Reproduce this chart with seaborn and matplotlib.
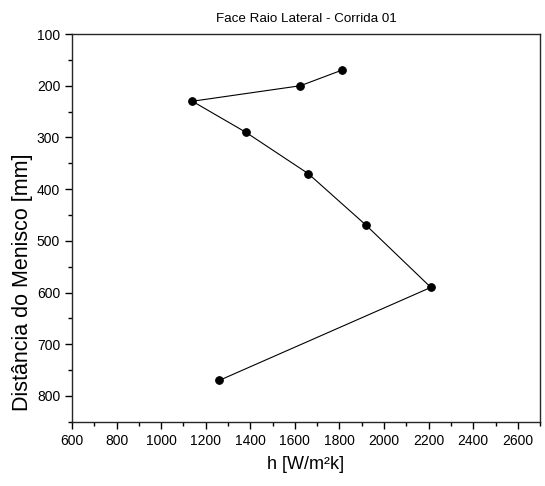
import pandas as pd
import seaborn as sns
import matplotlib.pyplot as plt
from matplotlib.ticker import MultipleLocator

# data
h_values = [1810, 1625, 1140, 1380, 1660, 1920, 2210, 1260]
distancia = [170, 200, 230, 290, 370, 470, 590, 770]

x_ticks = list(range(600, 2700, 200))
y_ticks = list(range(100, 900, 100))

sns.set_style("ticks")
plt.rcParams['font.family'] = ['Liberation Sans', 'DejaVu Sans']
plt.rcParams['text.color'] = 'black'
plt.rcParams['axes.labelcolor'] = 'black'
plt.rcParams['xtick.color'] = 'black'
plt.rcParams['ytick.color'] = 'black'

df = pd.DataFrame({'h': h_values, 'dist': distancia})

fig = plt.figure(figsize=(5.45, 4.86), dpi=100)
ax = fig.add_axes([0.132, 0.132, 0.859, 0.798])

sns.lineplot(data=df, x='h', y='dist', sort=False, estimator=None, color='black',
             linewidth=0.8, marker='o', markersize=5.5, markeredgecolor='black', ax=ax)

ax.set_xlim(600, 2700)
ax.set_ylim(850, 100)
ax.set_xticks(x_ticks)
ax.set_yticks(y_ticks)
ax.xaxis.set_minor_locator(MultipleLocator(100))
ax.yaxis.set_minor_locator(MultipleLocator(50))
ax.tick_params(which='major', direction='out', length=5, width=1, labelsize=10)
ax.tick_params(which='minor', direction='out', length=3, width=1)

for s in ax.spines.values():
    s.set_linewidth(1)
    s.set_visible(True)

ax.set_xlabel('h [W/m²k]', fontsize=13, labelpad=6)
ax.set_ylabel('Distância do Menisco [mm]', fontsize=15.5)
ax.yaxis.set_label_coords(-0.083, 0.36)
ax.set_title('Face Raio Lateral - Corrida 01', fontsize=9.6, pad=9)

fig.savefig('out.png', dpi=100)
